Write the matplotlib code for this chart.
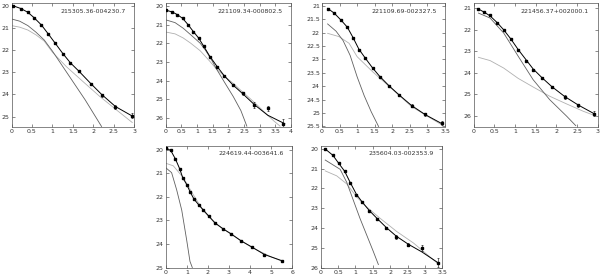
import matplotlib
matplotlib.use("Agg")
import matplotlib.pyplot as plt
from matplotlib.ticker import MultipleLocator, FormatStrFormatter, FuncFormatter

# ---------------- data ----------------
names = ["215305.36-004230.7", "221109.34-000802.5", "221109.69-002327.5",
         "221456.37+002000.1", "224619.44-003641.6", "235604.03-002353.9"]

# Panel 1
p1_x = [0.04, 0.23, 0.40, 0.55, 0.73, 0.90, 1.07, 1.25, 1.44, 1.66, 1.93, 2.20, 2.54, 2.95]
p1_y = [20.0, 20.14, 20.3, 20.56, 20.88, 21.3, 21.69, 22.16, 22.6, 22.95, 23.53, 24.05, 24.56, 24.96]
p1_e = [0.02, 0.02, 0.02, 0.02, 0.02, 0.02, 0.03, 0.03, 0.03, 0.04, 0.05, 0.06, 0.08, 0.12]
p1_tx = [0.0, 0.23, 0.40, 0.55, 0.73, 0.90, 1.07, 1.25, 1.44, 1.66, 1.93, 2.20, 2.54, 2.97]
p1_ty = [19.98, 20.13, 20.3, 20.54, 20.87, 21.28, 21.7, 22.15, 22.58, 22.98, 23.5, 24.0, 24.55, 25.0]
p1_bx = [0.0, 0.2, 0.4, 0.6, 0.8, 1.0, 1.2, 1.4, 1.6, 1.8, 2.0, 2.2]
p1_by = [20.6, 20.7, 20.9, 21.2, 21.55, 22.05, 22.6, 23.15, 23.7, 24.25, 24.85, 25.45]
p1_dx = [0.0, 0.2, 0.4, 0.6, 0.8, 1.0, 1.34, 1.75, 2.16, 2.57, 2.95]
p1_dy = [20.9, 20.97, 21.1, 21.32, 21.6, 22.1, 22.75, 23.43, 24.1, 24.71, 25.27]

# Panel 2
p2_x = [0.0, 0.21, 0.37, 0.54, 0.70, 0.88, 1.05, 1.21, 1.40, 1.63, 1.86, 2.14, 2.46, 2.83, 3.26, 3.76]
p2_y = [20.25, 20.34, 20.48, 20.66, 21.0, 21.39, 21.71, 22.16, 22.71, 23.25, 23.75, 24.25, 24.68, 25.29, 25.48, 26.29]
p2_e = [0.02, 0.02, 0.02, 0.02, 0.02, 0.02, 0.03, 0.03, 0.03, 0.04, 0.05, 0.05, 0.07, 0.15, 0.12, 0.25]
p2_tx = [0.0, 0.21, 0.37, 0.54, 0.70, 0.88, 1.05, 1.21, 1.40, 1.63, 1.86, 2.14, 2.46, 2.83, 3.26, 3.80]
p2_ty = [20.23, 20.33, 20.47, 20.67, 20.98, 21.37, 21.72, 22.15, 22.68, 23.22, 23.72, 24.22, 24.7, 25.28, 25.85, 26.3]
p2_bx = [0.0, 0.3, 0.56, 0.8, 1.1, 1.26, 1.45, 1.63, 1.9, 2.16, 2.4, 2.59]
p2_by = [20.75, 20.9, 21.2, 21.55, 22.0, 22.35, 22.85, 23.4, 24.15, 24.86, 25.6, 26.43]
p2_dx = [0.0, 0.3, 0.56, 0.8, 1.1, 1.4, 1.63, 1.9, 2.16, 2.42, 2.69, 2.95, 3.22, 3.45, 3.65]
p2_dy = [21.4, 21.5, 21.72, 22.0, 22.4, 22.95, 23.4, 23.8, 24.15, 24.55, 24.95, 25.35, 25.8, 26.15, 26.43]

# Panel 3
p3_x = [0.16, 0.35, 0.55, 0.72, 0.88, 1.05, 1.23, 1.44, 1.64, 1.92, 2.20, 2.55, 2.94, 3.42]
p3_y = [21.11, 21.28, 21.55, 21.78, 22.19, 22.65, 22.94, 23.33, 23.64, 24.0, 24.34, 24.73, 25.05, 25.38]
p3_e = [0.02, 0.02, 0.02, 0.02, 0.02, 0.02, 0.03, 0.03, 0.03, 0.03, 0.04, 0.05, 0.06, 0.08]
p3_tx = p3_x
p3_ty = [21.1, 21.28, 21.55, 21.8, 22.18, 22.62, 22.95, 23.32, 23.63, 24.0, 24.33, 24.72, 25.06, 25.4]
p3_bx = [0.16, 0.4, 0.6, 0.8, 1.0, 1.2, 1.4, 1.61]
p3_by = [21.68, 21.95, 22.3, 22.85, 23.65, 24.35, 24.95, 25.5]
p3_dx = [0.16, 0.48, 0.77, 1.0, 1.44, 1.92, 2.55, 3.42]
p3_dy = [22.03, 22.15, 22.4, 22.9, 23.46, 24.02, 24.76, 25.45]

# Panel 4
p4_x = [0.12, 0.26, 0.40, 0.57, 0.73, 0.90, 1.08, 1.28, 1.44, 1.65, 1.89, 2.20, 2.53, 2.91]
p4_y = [21.03, 21.17, 21.33, 21.67, 22.01, 22.41, 22.92, 23.43, 23.87, 24.22, 24.66, 25.12, 25.51, 25.9]
p4_e = [0.02, 0.02, 0.02, 0.02, 0.02, 0.03, 0.03, 0.03, 0.04, 0.04, 0.05, 0.08, 0.08, 0.12]
p4_tx = p4_x
p4_ty = [21.03, 21.18, 21.35, 21.66, 22.0, 22.42, 22.92, 23.42, 23.82, 24.22, 24.64, 25.1, 25.5, 25.9]
p4_bx = [0.12, 0.4, 0.73, 1.08, 1.44, 1.84, 2.25, 2.47]
p4_by = [21.22, 21.45, 22.15, 23.23, 24.32, 25.25, 26.02, 26.46]
p4_dx = [0.12, 0.4, 0.73, 1.08, 1.44, 1.84, 2.25, 2.65, 2.97]
p4_dy = [23.28, 23.43, 23.78, 24.26, 24.66, 25.09, 25.45, 25.79, 26.02]

# Panel 5
p5_x = [0.0, 0.24, 0.46, 0.66, 0.81, 1.0, 1.17, 1.34, 1.56, 1.79, 2.05, 2.34, 2.7, 3.11, 3.57, 4.08, 4.68, 5.5]
p5_y = [19.93, 20.04, 20.4, 20.81, 21.2, 21.49, 21.82, 22.1, 22.34, 22.57, 22.83, 23.11, 23.35, 23.58, 23.87, 24.13, 24.45, 24.71]
p5_e = [0.02] * 18
p5_tx = p5_x
p5_ty = p5_y
p5_bx = [0.0, 0.28, 0.52, 0.76, 1.0, 1.15, 1.26]
p5_by = [20.77, 20.98, 21.71, 22.57, 23.87, 24.74, 25.0]
p5_dx = [0.0, 0.36, 0.84, 1.31, 1.79, 2.34, 3.11, 4.08, 5.0, 5.5]
p5_dy = [20.58, 20.69, 21.2, 21.92, 22.6, 23.13, 23.6, 24.15, 24.55, 24.73]

# Panel 6
p6_x = [0.13, 0.35, 0.52, 0.69, 0.85, 1.03, 1.20, 1.40, 1.63, 1.89, 2.18, 2.52, 2.92, 3.37]
p6_y = [20.0, 20.31, 20.73, 21.13, 21.72, 22.32, 22.68, 23.13, 23.54, 24.0, 24.44, 24.84, 25.0, 25.75]
p6_e = [0.02, 0.02, 0.02, 0.02, 0.02, 0.03, 0.03, 0.03, 0.04, 0.05, 0.1, 0.08, 0.15, 0.22]
p6_tx = p6_x
p6_ty = [20.0, 20.32, 20.73, 21.13, 21.7, 22.3, 22.7, 23.12, 23.53, 23.98, 24.42, 24.82, 25.22, 25.75]
p6_bx = [0.13, 0.56, 0.75, 0.94, 1.13, 1.32, 1.51, 1.66]
p6_by = [20.56, 21.03, 21.69, 22.6, 23.51, 24.34, 25.17, 25.85]
p6_dx = [0.13, 0.46, 0.75, 1.04, 1.32, 1.71, 2.19, 2.67, 3.37]
p6_dy = [21.11, 21.36, 21.77, 22.44, 22.93, 23.51, 24.18, 24.76, 25.8]

# axis limits / ticks
xlims = [(0, 3), (0, 4), (0, 3.5), (0, 3), (0, 6), (0, 3.5)]
xsteps = [0.5, 0.5, 0.5, 0.5, 1, 0.5]
ylims = [(25.45, 19.88), (26.45, 19.85), (25.5, 20.9), (26.5, 20.75), (25.0, 19.85), (26.0, 19.85)]
ysteps = [1, 1, 0.5, 1, 1, 1]

# ---------------- figure ----------------
W, H = 600, 279
fig = plt.figure(figsize=(W / 100, H / 100), dpi=100)

boxes_px = [(11.5, 3, 134.3, 126.5), (165.7, 3, 291, 126.5), (322, 3, 445, 126.5),
            (473.5, 3, 597.7, 126.5), (165.7, 146, 292.3, 267.5), (320.7, 146, 442.3, 267.5)]

panels = [
    (p1_x, p1_y, p1_e, p1_tx, p1_ty, p1_bx, p1_by, p1_dx, p1_dy),
    (p2_x, p2_y, p2_e, p2_tx, p2_ty, p2_bx, p2_by, p2_dx, p2_dy),
    (p3_x, p3_y, p3_e, p3_tx, p3_ty, p3_bx, p3_by, p3_dx, p3_dy),
    (p4_x, p4_y, p4_e, p4_tx, p4_ty, p4_bx, p4_by, p4_dx, p4_dy),
    (p5_x, p5_y, p5_e, p5_tx, p5_ty, p5_bx, p5_by, p5_dx, p5_dy),
    (p6_x, p6_y, p6_e, p6_tx, p6_ty, p6_bx, p6_by, p6_dx, p6_dy),
]

fmt = FuncFormatter(lambda v, p: ("%g" % v))

for i, (box, pdat) in enumerate(zip(boxes_px, panels)):
    x0, y0, x1, y1 = box
    ax = fig.add_axes([x0 / W, 1 - y1 / H, (x1 - x0) / W, (y1 - y0) / H])
    px, py, pe, tx, ty, bx, by, dx, dy = pdat
    ax.plot(dx, dy, color="#b0b0b0", lw=0.6, zorder=2)
    ax.plot(bx, by, color="#606060", lw=0.6, zorder=2)
    ax.plot(tx, ty, color="black", lw=0.7, zorder=3)
    ax.errorbar(px, py, yerr=pe, fmt="s", ms=2.0, color="black", ecolor="black",
                elinewidth=0.4, capsize=0.8, capthick=0.4, zorder=4)
    ax.set_xlim(*xlims[i])
    ax.set_ylim(*ylims[i])
    ax.xaxis.set_major_locator(MultipleLocator(xsteps[i]))
    ax.yaxis.set_major_locator(MultipleLocator(ysteps[i]))
    ax.xaxis.set_major_formatter(fmt)
    ax.yaxis.set_major_formatter(fmt)
    ax.tick_params(direction="in", length=2, width=0.4, labelsize=4.5,
                   top=True, right=True, pad=1.5, colors="#333333")
    for s in ax.spines.values():
        s.set_linewidth(0.5)
        s.set_color("#555555")
    ax.text(0.93, 0.935, names[i], transform=ax.transAxes, ha="right", va="center",
            fontsize=4.5, color="#333333")

fig.savefig("out.png", dpi=100)
